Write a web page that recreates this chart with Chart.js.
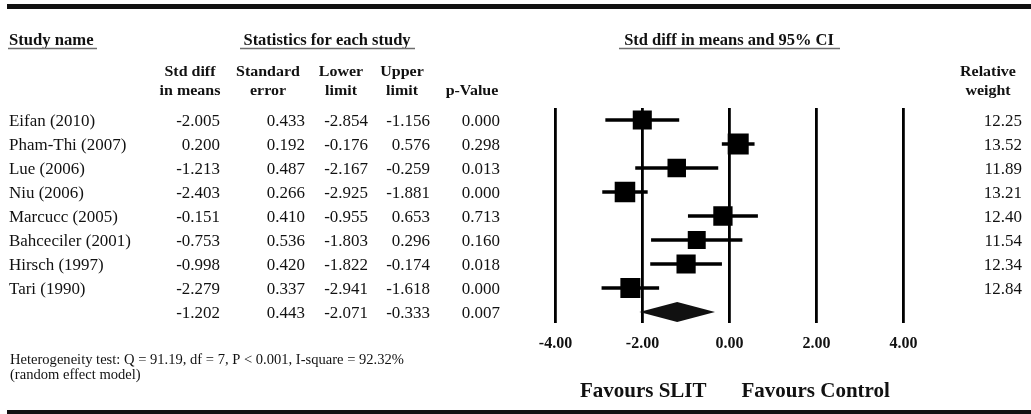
<!DOCTYPE html>
<html>
<head>
<meta charset="utf-8">
<script src="https://cdn.jsdelivr.net/npm/chart.js@4/dist/chart.umd.min.js"></script>
<style>
  html, body { margin: 0; padding: 0; background: #fff; }
  #wrap { width: 1031px; height: 414px; position: relative; }
</style>
</head>
<body>
<div id="wrap"><canvas id="forest" width="1031" height="414"></canvas></div>
<script>
// Study-level statistics
const studies    = ['Eifan (2010)', 'Pham-Thi (2007)', 'Lue (2006)', 'Niu (2006)', 'Marcucc (2005)', 'Bahceciler (2001)', 'Hirsch (1997)', 'Tari (1990)'];
const stdDiff    = [-2.005, 0.200, -1.213, -2.403, -0.151, -0.753, -0.998, -2.279];
const stdErr     = [0.433, 0.192, 0.487, 0.266, 0.410, 0.536, 0.420, 0.337];
const lowerLimit = [-2.854, -0.176, -2.167, -2.925, -0.955, -1.803, -1.822, -2.941];
const upperLimit = [-1.156, 0.576, -0.259, -1.881, 0.653, 0.296, -0.174, -1.618];
const pValue     = [0.000, 0.298, 0.013, 0.000, 0.713, 0.160, 0.018, 0.000];
const relWeight  = [12.25, 13.52, 11.89, 13.21, 12.40, 11.54, 12.34, 12.84];

// Pooled (random effect) estimate: std diff, SE, lower, upper, p
const pooled = [-1.202, 0.443, -2.071, -0.333, 0.007];

// Axis ticks of the effect-size scale
const xTicks = [-4, -2, 0, 2, 4];

const heterogeneity = 'Heterogeneity test: Q = 91.19, df = 7, P < 0.001, I-square = 92.32%';
const modelNote = '(random effect model)';

const INK = '#111';
const SERIF = '"Liberation Serif", "Times New Roman", serif';
const pooledRow = studies.length;

function txt(ctx, s, x, y, size, bold, align, sx) {
  ctx.save();
  ctx.font = (bold ? 'bold ' : '') + size + 'px ' + SERIF;
  ctx.textAlign = align || 'left';
  ctx.textBaseline = 'alphabetic';
  ctx.fillStyle = INK;
  ctx.translate(x, y);
  ctx.scale(sx || 1, 1);
  ctx.fillText(s, 0, 0);
  ctx.restore();
}

function underline(ctx, x1, x2, y) {
  ctx.save();
  ctx.strokeStyle = '#6d6d6d';
  ctx.lineWidth = 1.6;
  ctx.beginPath();
  ctx.moveTo(x1, y);
  ctx.lineTo(x2, y);
  ctx.stroke();
  ctx.restore();
}

// Pooled diamond drawn over the scales
const diamondPlugin = {
  id: 'diamond',
  afterDatasetsDraw(chart) {
    const { ctx, scales: { x, y } } = chart;
    const cy = y.getPixelForValue(pooledRow);
    const half = 10;
    ctx.save();
    ctx.fillStyle = '#111';
    ctx.beginPath();
    ctx.moveTo(x.getPixelForValue(pooled[2]), cy);
    ctx.lineTo(x.getPixelForValue(pooled[0]), cy - half);
    ctx.lineTo(x.getPixelForValue(pooled[3]), cy);
    ctx.lineTo(x.getPixelForValue(pooled[0]), cy + half);
    ctx.closePath();
    ctx.fill();
    ctx.restore();
  }
};

// Statistics table, headings, rules and footnotes
const tablePlugin = {
  id: 'table',
  afterDraw(chart) {
    const { ctx, scales: { x, y } } = chart;
    ctx.save();
    ctx.fillStyle = INK;
    ctx.fillRect(7, 4, 1024, 5);
    ctx.fillRect(7, 410, 1024, 4);
    ctx.restore();

    // Section headings
    txt(ctx, 'Study name', 9, 45, 16, true, 'left', 1.04);
    underline(ctx, 8, 97, 48.5);
    txt(ctx, 'Statistics for each study', 327, 45, 16, true, 'center', 1.03);
    underline(ctx, 240, 415, 48.5);
    txt(ctx, 'Std diff in means and 95% CI', 729, 45, 16, true, 'center', 1.03);
    underline(ctx, 619, 840, 48.5);

    // Column headings
    const heads = [
      ['Std diff', 'in means', 190],
      ['Standard', 'error', 268],
      ['Lower', 'limit', 341],
      ['Upper', 'limit', 402],
      ['', 'p-Value', 472],
      ['Relative', 'weight', 988]
    ];
    heads.forEach(([a, b, cx]) => {
      if (a) txt(ctx, a, cx, 76, 15.5, true, 'center', 1.03);
      txt(ctx, b, cx, 95, 15.5, true, 'center', 1.03);
    });

    // Rows
    const colRight = [220, 305, 368, 430, 500];
    const SX = 1.06;
    studies.forEach((name, i) => {
      const by = y.getPixelForValue(i) + 5.5;
      txt(ctx, name, 9, by, 16, false, 'left', SX);
      const vals = [stdDiff[i], stdErr[i], lowerLimit[i], upperLimit[i], pValue[i]];
      vals.forEach((v, k) => txt(ctx, v.toFixed(3), colRight[k], by, 16, false, 'right', SX));
      txt(ctx, relWeight[i].toFixed(2), 1022, by, 16, false, 'right', SX);
    });
    const pby = y.getPixelForValue(pooledRow) + 5.5;
    pooled.forEach((v, k) => txt(ctx, v.toFixed(3), colRight[k], pby, 16, false, 'right', SX));

    // Footnotes
    txt(ctx, heterogeneity, 10, 364, 14, false, 'left', 1.04);
    txt(ctx, modelNote, 10, 379, 14, false, 'left', 1.04);

    // Direction labels either side of zero
    const zero = x.getPixelForValue(0);
    txt(ctx, 'Favours SLIT', zero - 23, 397, 21, true, 'right', 1);
    txt(ctx, 'Favours Control', zero + 12, 397, 21, true, 'left', 1);
  }
};

const squareData = stdDiff.map((v, i) => ({ x: v, y: i }));
const ciSets = studies.map((s, i) => ({
  type: 'line',
  label: s,
  data: [{ x: lowerLimit[i], y: i }, { x: upperLimit[i], y: i }],
  borderColor: '#000',
  borderWidth: 3.5,
  pointRadius: 0,
  showLine: true,
  fill: false
}));

new Chart(document.getElementById('forest'), {
  type: 'scatter',
  data: {
    datasets: [
      {
        label: 'Std diff in means',
        data: squareData,
        pointStyle: 'rect',
        pointRadius: ctx => relWeight[ctx.dataIndex] * 1.1,
        pointHoverRadius: ctx => relWeight[ctx.dataIndex] * 1.1,
        backgroundColor: '#000',
        borderWidth: 0
      },
      ...ciSets
    ]
  },
  options: {
    responsive: false,
    animation: false,
    devicePixelRatio: 1,
    layout: { padding: { left: 555.5, right: 127.5, top: 108, bottom: 61 } },
    plugins: { legend: { display: false }, tooltip: { enabled: false } },
    scales: {
      x: {
        type: 'linear',
        min: xTicks[0],
        max: xTicks[xTicks.length - 1],
        afterBuildTicks: scale => { scale.ticks = xTicks.map(v => ({ value: v })); },
        afterFit: scale => { scale.height = 30; },
        ticks: {
          callback: v => v.toFixed(2),
          color: INK,
          font: { family: SERIF, size: 16, weight: 'bold' },
          padding: 11,
          maxRotation: 0
        },
        grid: { color: '#000', lineWidth: 2.8, drawTicks: false },
        border: { display: false }
      },
      y: {
        type: 'linear',
        display: false,
        reverse: true,
        min: -0.5,
        max: 8.458
      }
    }
  },
  plugins: [diamondPlugin, tablePlugin]
});
</script>
</body>
</html>
